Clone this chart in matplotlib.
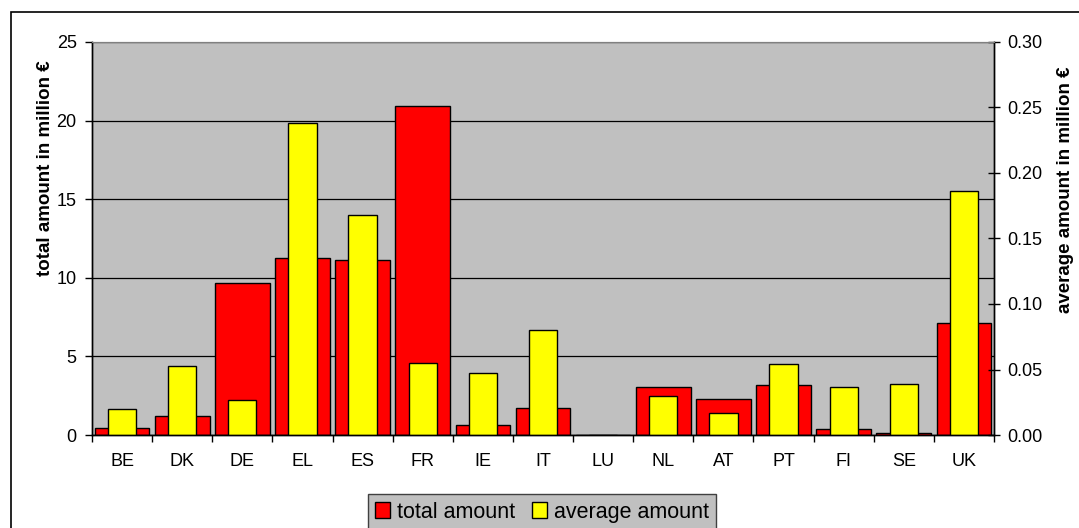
import numpy as np
import matplotlib
matplotlib.use("Agg")
from matplotlib import pyplot as plt
from matplotlib.patches import Rectangle, Patch

plt.rcParams['font.family'] = ['Liberation Sans', 'DejaVu Sans']

countries = ["BE", "DK", "DE", "EL", "ES", "FR", "IE", "IT", "LU", "NL", "AT", "PT", "FI", "SE", "UK"]
total_amount = [0.45, 1.2, 9.7, 11.25, 11.15, 20.9, 0.65, 1.7, 0.0, 3.05, 2.3, 3.15, 0.35, 0.15, 7.1]
average_amount = [0.020, 0.053, 0.027, 0.238, 0.168, 0.055, 0.047, 0.080, 0.0, 0.030, 0.017, 0.054, 0.037, 0.039, 0.186]

W, H = 1079, 528
fig = plt.figure(figsize=(W / 100, H / 100), dpi=100)
ax = fig.add_axes([92 / W, 1 - 435 / H, (994 - 92) / W, (435 - 42) / H])
ax2 = ax.twinx()

# frame around the chart
fig.patches.append(Rectangle((10.5 / W, -0.1), 1.2, 1 - 12.5 / H + 0.1, transform=fig.transFigure,
                             fill=False, edgecolor="black", linewidth=1.2))

x = np.arange(len(countries))
ax.set_facecolor("#c0c0c0")
ax.bar(x, total_amount, width=0.91, color="#ff0000", edgecolor="black", linewidth=1.0, zorder=2)
ax2.bar(x, average_amount, width=0.47, color="#ffff00", edgecolor="black", linewidth=1.0, zorder=2)

ax.set_xlim(-0.5, len(countries) - 0.5)
ax.set_ylim(0, 25)
ax2.set_ylim(0, 0.30)
ax.set_yticks([0, 5, 10, 15, 20, 25])
ax2.set_yticks([0, 0.05, 0.10, 0.15, 0.20, 0.25, 0.30])
ax2.set_yticklabels([f"{v:.2f}" for v in [0, 0.05, 0.10, 0.15, 0.20, 0.25, 0.30]])

ax.yaxis.grid(True, color="black", linewidth=0.9)
ax.set_axisbelow(True)

ax.set_xticks(x)
ax.set_xticklabels(countries)
ax.set_xticks(np.arange(-0.5, len(countries)), minor=True)
ax.tick_params(axis="x", which="major", length=0, pad=13, labelsize=13)
ax.tick_params(axis="x", which="minor", length=5, width=1, direction="out")
ax.tick_params(axis="y", length=5, width=1, direction="out", pad=6, labelsize=13)
ax2.tick_params(axis="y", length=9, width=1, direction="inout", pad=5, labelsize=13)

for a in (ax, ax2):
    a.spines["top"].set_color("#808080")
    a.spines["left"].set_linewidth(1.0)
    a.spines["right"].set_linewidth(1.0)
    a.spines["bottom"].set_linewidth(1.0)

ax.set_ylabel("total amount in million €", fontsize=13.5, fontweight="bold")
ax2.set_ylabel("average amount in million €", fontsize=13.5, fontweight="bold")
# titles sit above the middle of the plot, as in the original
ax.yaxis.set_label_coords((54 - 92) / (994 - 92), (435 - 168) / 393)
ax2.yaxis.set_label_coords((1057 - 92) / (994 - 92), (435 - 190) / 393)

handles = [Patch(facecolor="#ff0000", edgecolor="black", label="total amount"),
           Patch(facecolor="#ffff00", edgecolor="black", label="average amount")]
leg = fig.legend(handles=handles, loc="upper center", bbox_to_anchor=(542 / W, 1 - 494 / H),
                 ncol=2, frameon=True, fancybox=False, fontsize=15.5, handlelength=0.7,
                 handleheight=0.7, handletextpad=0.3, columnspacing=0.8, borderpad=0.35,
                 borderaxespad=0)
leg.get_frame().set_facecolor("#c0c0c0")
leg.get_frame().set_edgecolor("#404040")
leg.get_frame().set_alpha(1)

fig.savefig("out.png", dpi=100)
